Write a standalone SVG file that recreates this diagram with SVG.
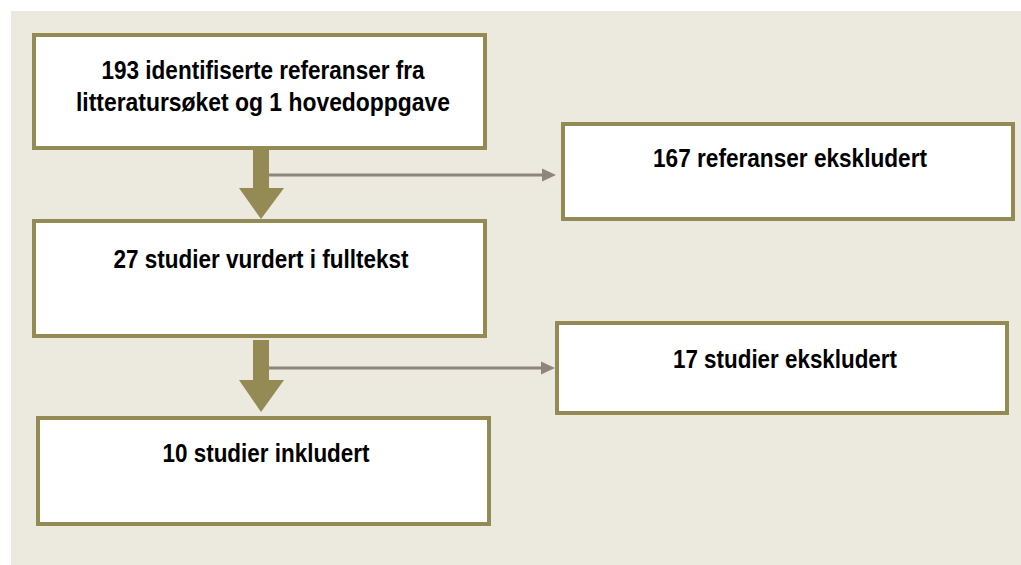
<svg xmlns="http://www.w3.org/2000/svg" width="1021" height="565" viewBox="0 0 1021 565">
<style>
.box{fill:#FFFFFF;stroke:#948A54;stroke-width:4}
.lbl{font-family:"Liberation Sans",Arial,sans-serif;font-size:25px;font-weight:bold;fill:#000;text-anchor:middle}
.big{fill:#948A54}
.thin{stroke:#8E857B;stroke-width:3;fill:none}
.head{fill:#8E857B}
</style>
<rect x="0" y="0" width="1021" height="565" fill="#FFFFFF"/>
<rect x="11" y="11" width="1010" height="554" fill="#ECE9DF"/>
<g id="n1">
<rect class="box" x="34" y="35" width="451" height="113"/>
<text class="lbl" x="263" y="79" textLength="323" lengthAdjust="spacingAndGlyphs">193 identifiserte referanser fra</text>
<text class="lbl" x="263" y="111" textLength="374" lengthAdjust="spacingAndGlyphs">litteratursøket og 1 hovedoppgave</text>
</g>
<g id="n2">
<rect class="box" x="563" y="124" width="450" height="95"/>
<text class="lbl" x="790" y="167" textLength="274" lengthAdjust="spacingAndGlyphs">167 referanser ekskludert</text>
</g>
<g id="n3">
<rect class="box" x="34" y="221" width="451" height="115"/>
<text class="lbl" x="261" y="268" textLength="295" lengthAdjust="spacingAndGlyphs">27 studier vurdert i fulltekst</text>
</g>
<g id="n4">
<rect class="box" x="557" y="323" width="450" height="90"/>
<text class="lbl" x="785" y="368" textLength="224" lengthAdjust="spacingAndGlyphs">17 studier ekskludert</text>
</g>
<g id="n5">
<rect class="box" x="38" y="418" width="451" height="106"/>
<text class="lbl" x="266" y="462" textLength="207" lengthAdjust="spacingAndGlyphs">10 studier inkludert</text>
</g>
<g id="connectors">
<rect class="big" x="253" y="150" width="16" height="39"/>
<polygon class="big" points="239,188 284,188 261,219"/>
<rect class="big" x="253" y="340" width="16" height="41"/>
<polygon class="big" points="239,380 284,380 261,412"/>
<line class="thin" x1="269" y1="175" x2="543" y2="175"/>
<polygon class="head" points="542,168.5 556,175 542,181.5"/>
<line class="thin" x1="269" y1="368" x2="542" y2="368"/>
<polygon class="head" points="541,361.5 555,368 541,374.5"/>
</g>
</svg>
